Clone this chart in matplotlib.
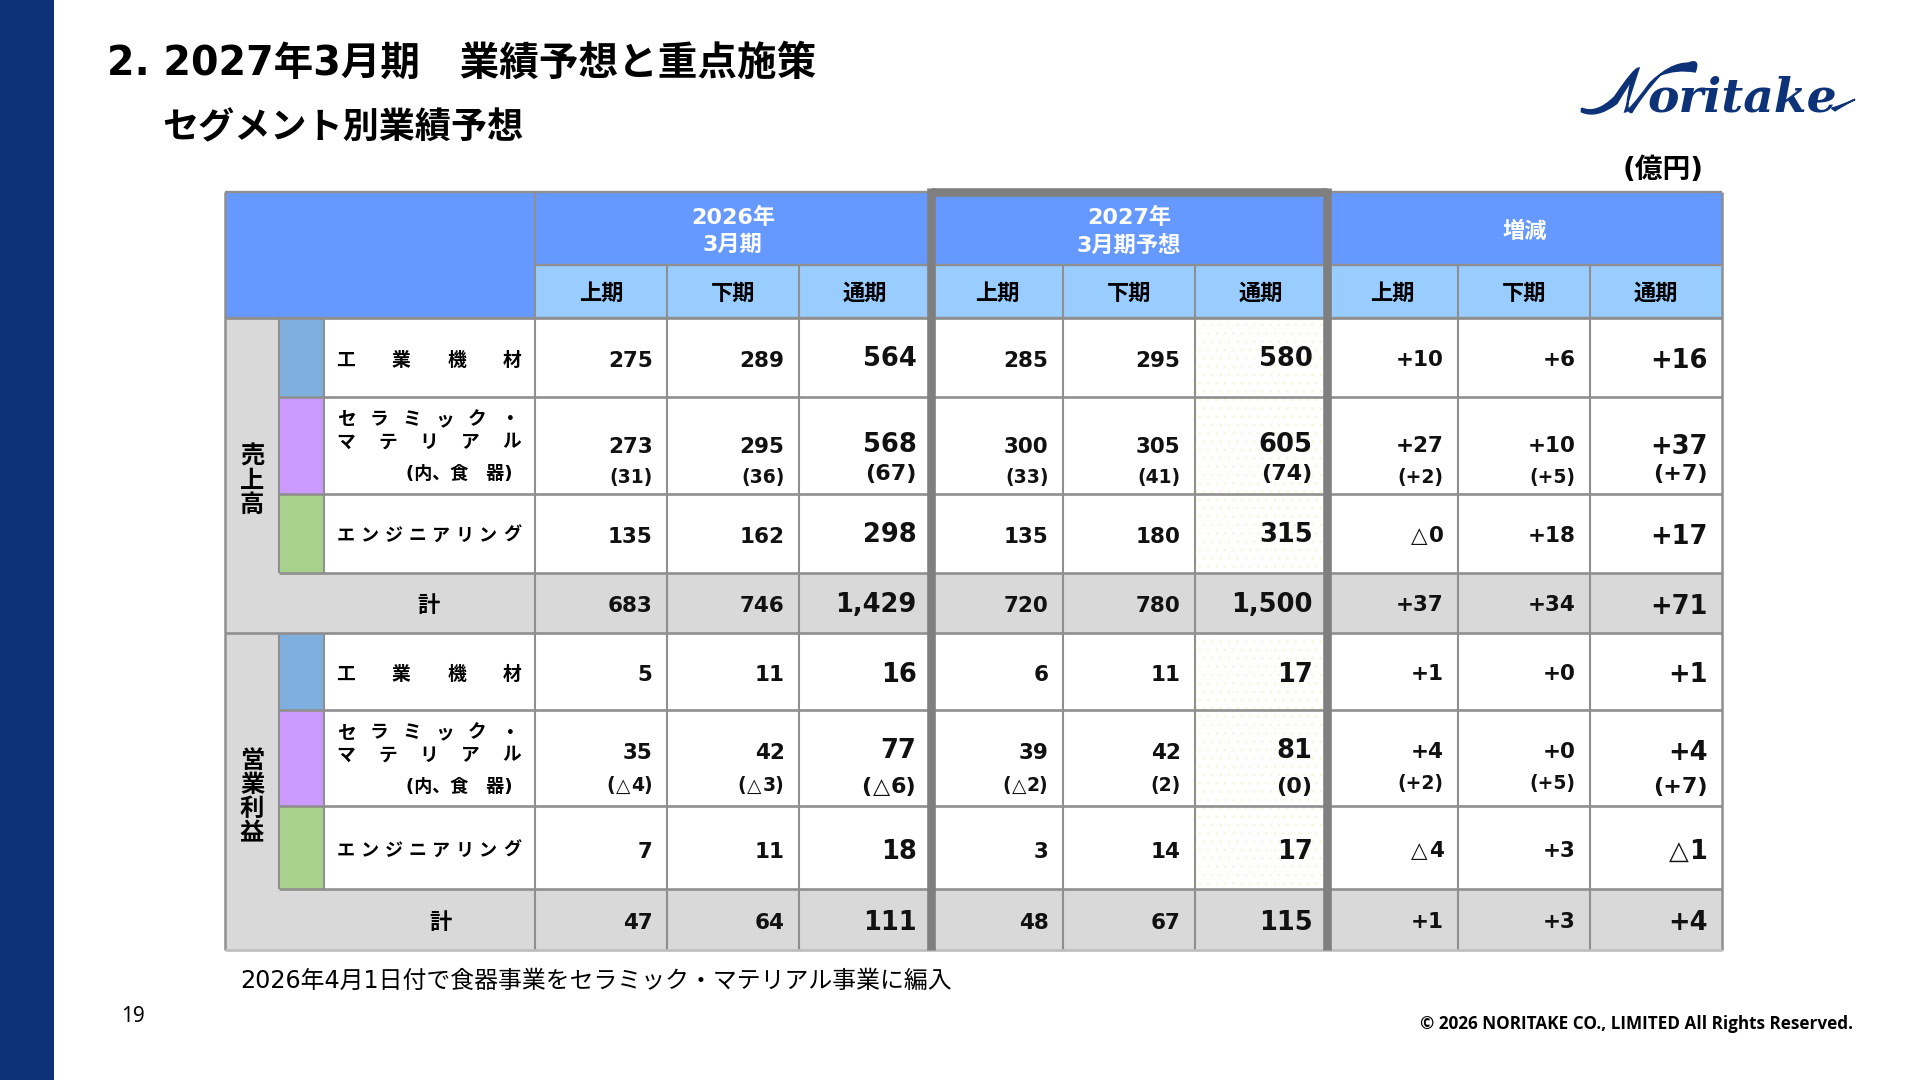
import matplotlib
matplotlib.use("Agg")
import matplotlib.pyplot as plt
from matplotlib.patches import Rectangle, PathPatch
from matplotlib.path import Path

plt.rcParams['font.family'] = ['DejaVu Sans', 'Noto Sans CJK JP']
plt.rcParams['hatch.linewidth'] = 0.3

# values
periods = ['上期', '下期', '通期']
groups = ['2026年\n3月期', '2027年\n3月期予想', '増減']
segments = ['工業機材', 'セラミック・', 'マテリアル', 'エンジニアリング']

sales_kogyo = ['275', '289', '564', '285', '295', '580', '+10', '+6', '+16']
sales_ceramic = ['273', '295', '568', '300', '305', '605', '+27', '+10', '+37']
sales_ceramic_sub = ['(31)', '(36)', '(67)', '(33)', '(41)', '(74)', '(+2)', '(+5)', '(+7)']
sales_eng = ['135', '162', '298', '135', '180', '315', '△0', '+18', '+17']
sales_total = ['683', '746', '1,429', '720', '780', '1,500', '+37', '+34', '+71']
op_kogyo = ['5', '11', '16', '6', '11', '17', '+1', '+0', '+1']
op_ceramic = ['35', '42', '77', '39', '42', '81', '+4', '+0', '+4']
op_ceramic_sub = ['(△4)', '(△3)', '(△6)', '(△2)', '(2)', '(0)', '(+2)', '(+5)', '(+7)']
op_eng = ['7', '11', '18', '3', '14', '17', '△4', '+3', '△1']
op_total = ['47', '64', '111', '48', '67', '115', '+1', '+3', '+4']

# layout, in pixels of the slide
col_x = [535, 667, 799, 931, 1063, 1195, 1327, 1458, 1590, 1722]
row_y = [317.5, 396.5, 493.5, 572.5, 632.5, 709.5, 806, 888.5, 950]
left = 225
sw0, sw1 = 279, 324
head_y = [192, 265, 317.5]

NAVY = '#0D3278'
HEAD = '#6699FF'
SUB = '#99CCFF'
GREY = '#D9D9D9'
LINE = '#8F8F8F'
BLUE = '#7FAFDF'
PURPLE = '#CC99FF'
GREEN = '#A9D18E'
FRAME = '#7F7F7F'

fig = plt.figure(figsize=(19.2, 10.8), dpi=100)
ax = fig.add_axes([0, 0, 1, 1])
ax.set_xlim(0, 1920)
ax.set_ylim(1080, 0)
ax.axis('off')
renderer = fig.canvas.get_renderer()


def box(x0, y0, x1, y1, fc):
    ax.add_patch(Rectangle((x0, y0), x1 - x0, y1 - y0, fc=fc, ec='none', zorder=1))


def hline(y, x0, x1, lw=1.7, color=LINE, z=3):
    ax.plot([x0, x1], [y, y], color=color, lw=lw, solid_capstyle='butt', zorder=z)


def vline(x, y0, y1, lw=1.5, color=LINE, z=3):
    ax.plot([x, x], [y0, y1], color=color, lw=lw, solid_capstyle='butt', zorder=z)


# side bar and titles
box(0, 0, 54, 1080, NAVY)
ax.text(107, 64, '2. 2027年3月期　業績予想と重点施策', fontsize=28.5, fontweight='bold', va='center', color='black')
ax.text(162, 128, 'セグメント別業績予想', fontsize=26, fontweight='bold', va='center', color='black')
ax.text(1663, 170, '(億円)', fontsize=20, fontweight='bold', ha='center', va='center')

# logo: lettering plus the swept N and the tail of the e
ax.text(1647, 112, 'oritake', fontsize=34, family='DejaVu Serif', style='italic', fontweight='bold',
        color=NAVY, va='baseline', ha='left')


def logo_xy(x, y):
    return 1560 + x / 3, 40 + y / 3


n_shape = [(65, 205), (110, 225), (165, 170), (222, 85), (236, 85), (205, 180), (195, 215), (208, 215),
           (270, 130), (330, 70), (385, 70), (420, 55), (405, 95), (350, 85), (300, 105), (250, 160),
           (215, 217), (190, 217), (215, 120), (222, 105), (170, 190), (110, 235), (65, 215), (65, 205)]
n_codes = [Path.MOVETO] + [Path.CURVE3] * (len(n_shape) - 1)
if len(n_shape) % 2 == 0:
    n_codes[-1] = Path.LINETO
ax.add_patch(PathPatch(Path([logo_xy(*p) for p in n_shape], n_codes), fc=NAVY, ec=NAVY, lw=1.4, zorder=5))
tail = [(815, 205), (850, 195), (885, 178), (860, 190), (825, 212), (815, 205)]
ax.add_patch(PathPatch(Path([logo_xy(*p) for p in tail],
                           [Path.MOVETO, Path.CURVE3, Path.CURVE3, Path.CURVE3, Path.CURVE3, Path.LINETO]),
                       fc=NAVY, ec=NAVY, lw=1.2, zorder=5))

# fills
box(left, head_y[0], col_x[0], head_y[2], HEAD)
box(col_x[0], head_y[0], col_x[-1], head_y[1], HEAD)
box(col_x[0], head_y[1], col_x[-1], head_y[2], SUB)
box(left, row_y[0], sw0, row_y[4], GREY)
box(left, row_y[4], sw0, row_y[8], GREY)
box(left, row_y[3], col_x[-1], row_y[4], GREY)
box(left, row_y[7], col_x[-1], row_y[8], GREY)
for base in (0, 4):
    box(sw0, row_y[base], sw1, row_y[base + 1], BLUE)
    box(sw0, row_y[base + 1], sw1, row_y[base + 2], PURPLE)
    box(sw0, row_y[base + 2], sw1, row_y[base + 3], GREEN)

# dotted cells of the forecast full year column
for i in [0, 1, 2, 4, 5, 6]:
    ax.add_patch(Rectangle((col_x[5], row_y[i]), col_x[6] - col_x[5], row_y[i + 1] - row_y[i],
                           fc='white', ec='#FBF1CF', hatch='..', lw=0, zorder=1))

# grid
vline(left, head_y[0], row_y[-1], 1.8)
vline(col_x[-1], head_y[0], row_y[-1], 1.8)
for j, x in enumerate(col_x[:-1]):
    if j in (0, 6):
        vline(x, head_y[0], row_y[-1])
    elif j != 3:
        vline(x, head_y[1], row_y[-1])
for x in (sw0, sw1):
    vline(x, row_y[0], row_y[3], 1.5)
    vline(x, row_y[4], row_y[7], 1.5)
hline(head_y[0], left, col_x[-1])
hline(head_y[1], col_x[0], col_x[-1])
hline(head_y[2], left, col_x[-1])
for i, y in enumerate(row_y):
    hline(y, left if i in (0, 4, 8) else sw0, col_x[-1], 1.9, '#BDBDBD' if i == 8 else LINE)

# forecast frame: top and both sides only
hw = 4.3
vline(col_x[3], head_y[0] - hw, row_y[-1], 6.2, FRAME, 4)
vline(col_x[6], head_y[0] - hw, row_y[-1], 6.2, FRAME, 4)
hline(head_y[0], col_x[3], col_x[6], 6.2, FRAME, 4)

# header text
hc = [(col_x[0] + col_x[3]) / 2, (col_x[3] + col_x[6]) / 2, (col_x[6] + col_x[9]) / 2]
for x, g in zip(hc, groups):
    ax.text(x, 231, g, color='white', fontsize=16, fontweight='bold', ha='center', va='center', linespacing=1.4, zorder=5)
for i in range(9):
    ax.text((col_x[i] + col_x[i + 1]) / 2, 294, periods[i % 3], fontsize=16, fontweight='bold', ha='center', va='center', zorder=5)


def spaced(s, x0, x1, y, size=13.5):
    # spread the characters of a label over the label column
    n = len(s)
    for k, ch in enumerate(s):
        ax.text(x0 + (x1 - x0) * k / (n - 1), y, ch, fontsize=size, fontweight='bold', ha='center', va='center', zorder=5)


lx0, lx1 = 346, 512
for rows in ([360, 420, 442, 536], [674, 733, 755, 851]):
    spaced(segments[0], lx0, lx1, rows[0])
    spaced(segments[1], lx0, lx1 - 2, rows[1])
    spaced(segments[2], lx0, lx1, rows[2])
    ax.text(512, rows[2] + 32, '(内、食\u3000器)', fontsize=13, fontweight='bold', ha='right', va='center', zorder=5)
    spaced(segments[3], lx0, lx1, rows[3], 13)

ax.text(429, 606, '計', fontsize=16, fontweight='bold', ha='center', va='center', zorder=5)
ax.text(441, 923, '計', fontsize=16, fontweight='bold', ha='center', va='center', zorder=5)
for title, y in (('売\n上\n高', 481), ('営\n業\n利\n益', 797)):
    ax.text(252, y, title, fontsize=17.5, fontweight='bold', ha='center', va='center', linespacing=1.0, zorder=5)


def cell(x, y, v, size):
    # right aligned; the triangle of a minus value is set thin as in the source
    parts = v.split('△')
    tail_txt = ax.text(x, y, parts[-1], fontsize=size, fontweight='bold', ha='right', va='center', zorder=5, color='#111111')
    if len(parts) == 1:
        return
    x0 = ax.transData.inverted().transform(tail_txt.get_window_extent(renderer))[0][0]
    tri = ax.text(x0 - 1, y, '△', fontsize=size, ha='right', va='center', zorder=5, color='#111111')
    if parts[0]:
        x1 = ax.transData.inverted().transform(tri.get_window_extent(renderer))[0][0]
        ax.text(x1 - 1, y, parts[0], fontsize=size, fontweight='bold', ha='right', va='center', zorder=5, color='#111111')


def fill_row(values, y, sub=False, full_dy=-2, diff_dy=-1):
    for i, v in enumerate(values):
        full = i % 3 == 2
        size = 18.5 if full else 15.5
        if sub:
            size = 16 if full else 13.5
        dy = 0
        if full:
            dy = full_dy
            if i == 8 and not sub and full_dy < 0:
                dy = full_dy + 2
        elif i >= 6:
            dy = diff_dy
        cell(col_x[i + 1] - 14.5, y + dy, v, size)


fill_row(sales_kogyo, 361)
fill_row(sales_ceramic, 447)
fill_row(sales_ceramic_sub, 478, True, full_dy=-4)
fill_row(sales_eng, 537)
fill_row(sales_total, 606, full_dy=-1)
fill_row(op_kogyo, 675, full_dy=0)
fill_row(op_ceramic, 753)
fill_row(op_ceramic_sub, 786, True, full_dy=1, diff_dy=-2)
fill_row(op_eng, 852, full_dy=0)
fill_row(op_total, 923, full_dy=0)

# foot
ax.text(240, 981, '2026年4月1日付で食器事業をセラミック・マテリアル事業に編入', fontsize=17.2, va='center', ha='left')
ax.text(133, 1016, '19', fontsize=15, ha='center', va='center', family='Noto Sans')
ax.text(1853, 1024, '© 2026 NORITAKE CO., LIMITED All Rights Reserved.', fontsize=12.3, fontweight='bold', family='Open Sans', ha='right', va='center')

fig.savefig('out.png', dpi=100)
